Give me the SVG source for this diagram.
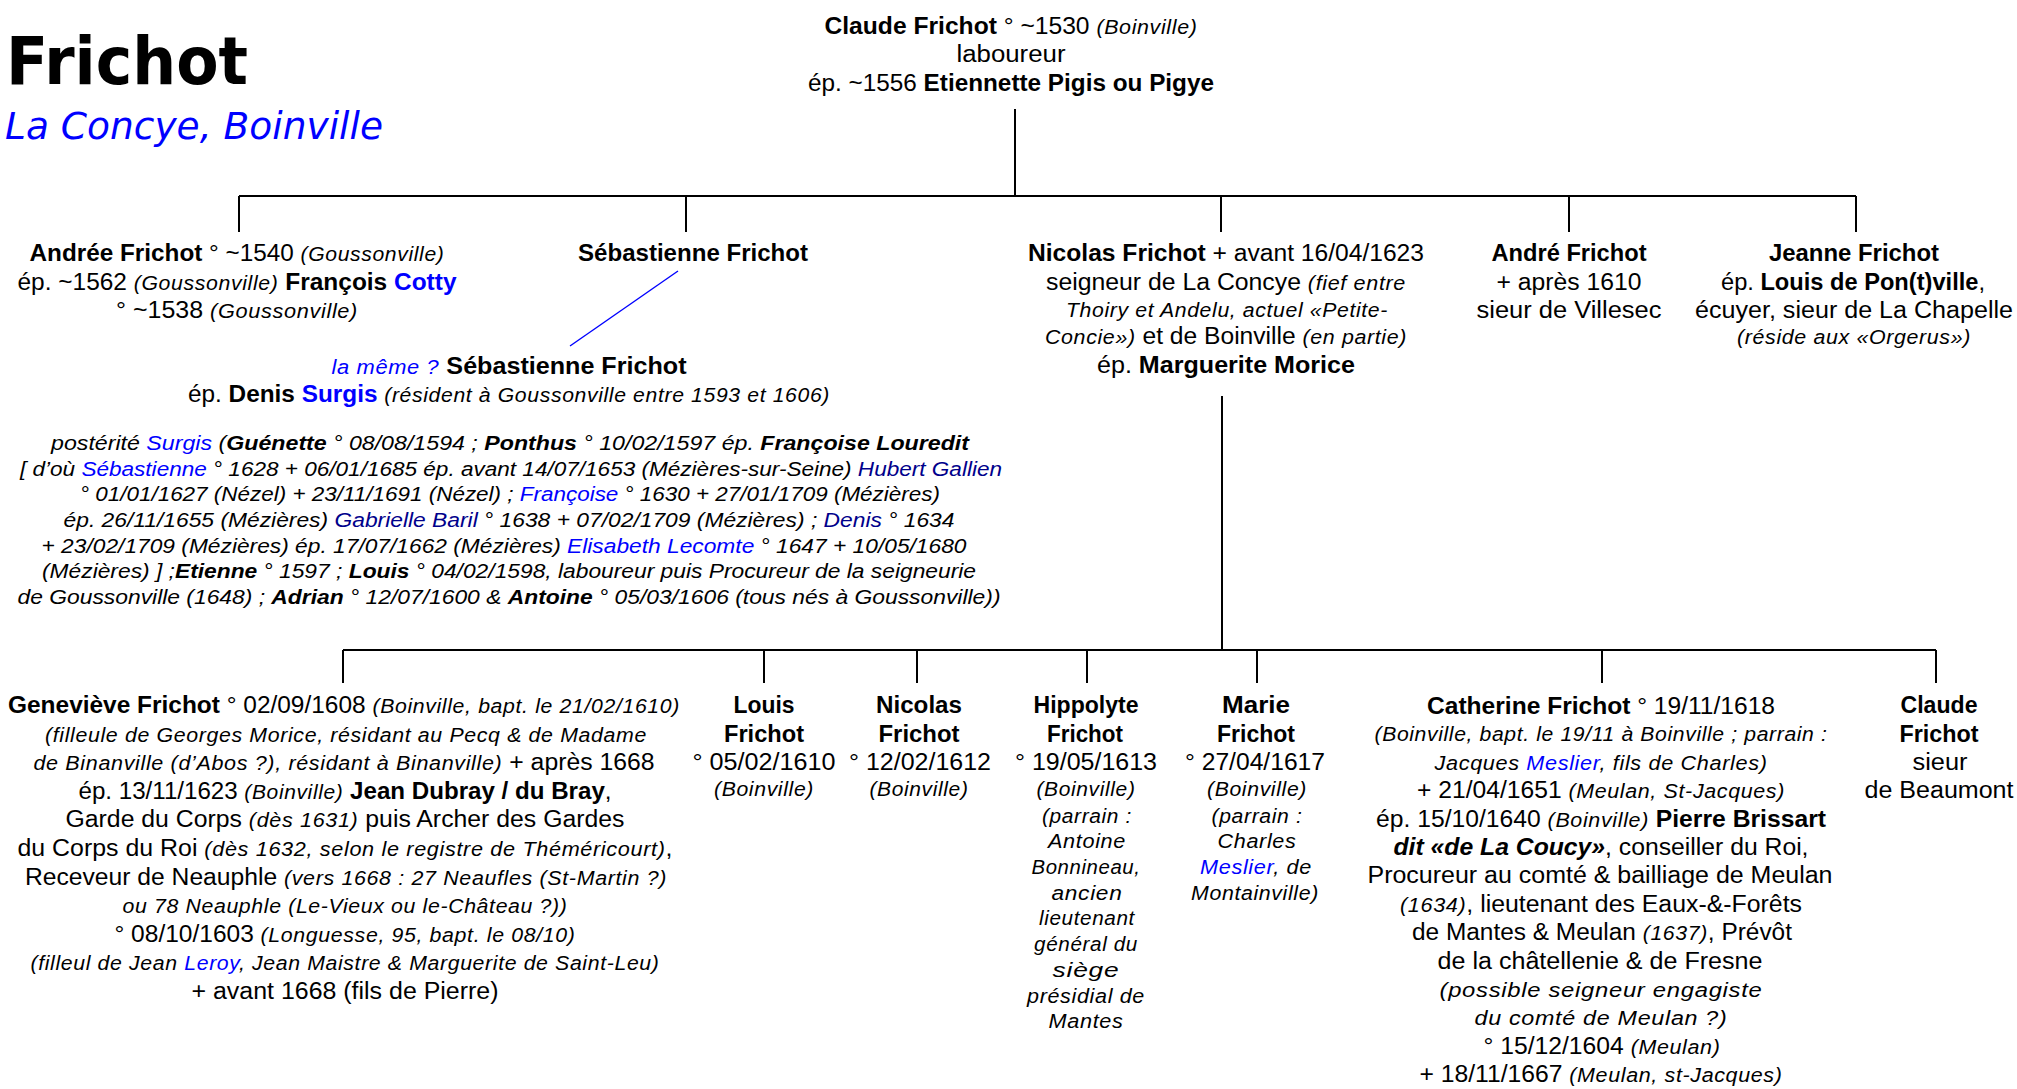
<svg xmlns="http://www.w3.org/2000/svg" width="2017" height="1089" viewBox="0 0 2017 1089">
<style>
.t{font-family:"Liberation Sans",Arial,sans-serif;font-size:23px;fill:#000;text-anchor:middle}
.b{font-weight:bold}
.i{font-style:italic;font-size:20px;letter-spacing:0.6px}
.s{font-style:italic;font-size:20px}
.bl{fill:#0000ff}
.nv{fill:#00008b}
.ln{stroke:#000;stroke-width:2;fill:none}
</style>
<rect width="2017" height="1089" fill="#fff"/>
<g id="title">
<text x="6" y="84" font-family="DejaVu Sans, sans-serif" font-weight="bold" font-size="66" textLength="242" lengthAdjust="spacingAndGlyphs">Frichot</text>
<text x="5" y="139" font-family="DejaVu Sans, sans-serif" font-style="italic" font-size="37" fill="#0000ff" textLength="378" lengthAdjust="spacingAndGlyphs">La Concye, Boinville</text>
</g>
<g id="connectors">
<path class="ln" d="M1015 109V196M239 196H1856M239 196V232M686 196V232M1221 196V232M1569 196V232M1856 196V232"/>
<path class="ln" d="M1222 396V650M343 650H1936M343 650V683M764 650V683M917 650V683M1087 650V683M1257 650V683M1602 650V683M1936 650V683"/>
<line x1="678" y1="271" x2="570" y2="346" stroke="#0000ff" stroke-width="1.4"/>
</g>
<g id="claude-frichot">
<text class="t" x="1011" y="34" textLength="373" lengthAdjust="spacingAndGlyphs"><tspan class="b">Claude Frichot</tspan> ° ~1530 <tspan class="i">(Boinville)</tspan></text>
<text class="t" x="1011" y="62" textLength="109" lengthAdjust="spacingAndGlyphs">laboureur</text>
<text class="t" x="1011" y="91" textLength="406" lengthAdjust="spacingAndGlyphs">ép. ~1556 <tspan class="b">Etiennette Pigis ou Pigye</tspan></text>
</g>
<g id="andree-frichot">
<text class="t" x="237" y="261" textLength="415" lengthAdjust="spacingAndGlyphs"><tspan class="b">Andrée Frichot</tspan> ° ~1540 <tspan class="i">(Goussonville)</tspan></text>
<text class="t" x="237" y="290" textLength="439" lengthAdjust="spacingAndGlyphs">ép. ~1562 <tspan class="i">(Goussonville)</tspan> <tspan class="b">François <tspan class="bl">Cotty</tspan></tspan></text>
<text class="t" x="237" y="318" textLength="242" lengthAdjust="spacingAndGlyphs">° ~1538 <tspan class="i">(Goussonville)</tspan></text>
</g>
<g id="sebastienne-frichot">
<text class="t b" x="693" y="261" textLength="230" lengthAdjust="spacingAndGlyphs">Sébastienne Frichot</text>
</g>
<g id="sebastienne-surgis">
<text class="t" x="509" y="374" textLength="355" lengthAdjust="spacingAndGlyphs"><tspan class="i bl">la même ?</tspan> <tspan class="b">Sébastienne Frichot</tspan></text>
<text class="t" x="509" y="402" textLength="642" lengthAdjust="spacingAndGlyphs">ép. <tspan class="b">Denis <tspan class="bl">Surgis</tspan></tspan> <tspan class="i">(résident à Goussonville entre 1593 et 1606)</tspan></text>
<text class="t s" x="510" y="450" textLength="918" lengthAdjust="spacingAndGlyphs">postérité <tspan class="bl">Surgis</tspan> (<tspan class="b">Guénette</tspan> ° 08/08/1594 ; <tspan class="b">Ponthus</tspan> ° 10/02/1597 ép. <tspan class="b">Françoise Louredit</tspan></text>
<text class="t s" x="511" y="476" textLength="982" lengthAdjust="spacingAndGlyphs">[ d’où <tspan class="bl">Sébastienne</tspan> ° 1628 + 06/01/1685 ép. avant 14/07/1653 (Mézières-sur-Seine) <tspan class="nv">Hubert Gallien</tspan></text>
<text class="t s" x="510" y="501" textLength="860" lengthAdjust="spacingAndGlyphs">° 01/01/1627 (Nézel) + 23/11/1691 (Nézel) ; <tspan class="bl">Françoise</tspan> ° 1630 + 27/01/1709 (Mézières)</text>
<text class="t s" x="509" y="527" textLength="891" lengthAdjust="spacingAndGlyphs">ép. 26/11/1655 (Mézières) <tspan class="nv">Gabrielle Baril</tspan> ° 1638 + 07/02/1709 (Mézières) ; <tspan class="nv">Denis</tspan> ° 1634</text>
<text class="t s" x="504" y="553" textLength="925" lengthAdjust="spacingAndGlyphs">+ 23/02/1709 (Mézières) ép. 17/07/1662 (Mézières) <tspan class="bl">Elisabeth Lecomte</tspan> ° 1647 + 10/05/1680</text>
<text class="t s" x="509" y="578" textLength="934" lengthAdjust="spacingAndGlyphs">(Mézières) ] ;<tspan class="b">Etienne</tspan> ° 1597 ; <tspan class="b">Louis</tspan> ° 04/02/1598, laboureur puis Procureur de la seigneurie</text>
<text class="t s" x="509" y="604" textLength="983" lengthAdjust="spacingAndGlyphs">de Goussonville (1648) ; <tspan class="b">Adrian</tspan> ° 12/07/1600 &amp; <tspan class="b">Antoine</tspan> ° 05/03/1606 (tous nés à Goussonville))</text>
</g>
<g id="nicolas-frichot">
<text class="t" x="1226" y="261" textLength="396" lengthAdjust="spacingAndGlyphs"><tspan class="b">Nicolas Frichot</tspan>  + avant 16/04/1623</text>
<text class="t" x="1226" y="290" textLength="360" lengthAdjust="spacingAndGlyphs">seigneur de La Concye <tspan class="i">(fief entre</tspan></text>
<text class="t i" x="1227" y="317" textLength="322" lengthAdjust="spacingAndGlyphs">Thoiry et Andelu, actuel «Petite-</text>
<text class="t" x="1226" y="344" textLength="362" lengthAdjust="spacingAndGlyphs"><tspan class="i">Concie»)</tspan> et de Boinville <tspan class="i">(en partie)</tspan></text>
<text class="t" x="1226" y="373" textLength="258" lengthAdjust="spacingAndGlyphs">ép.  <tspan class="b">Marguerite Morice</tspan></text>
</g>
<g id="andre-frichot">
<text class="t b" x="1569" y="261" textLength="155" lengthAdjust="spacingAndGlyphs">André Frichot</text>
<text class="t" x="1569" y="290" textLength="145" lengthAdjust="spacingAndGlyphs">+ après 1610</text>
<text class="t" x="1569" y="318" textLength="185" lengthAdjust="spacingAndGlyphs">sieur de Villesec</text>
</g>
<g id="jeanne-frichot">
<text class="t b" x="1854" y="261" textLength="170" lengthAdjust="spacingAndGlyphs">Jeanne Frichot</text>
<text class="t" x="1853" y="290" textLength="264" lengthAdjust="spacingAndGlyphs">ép. <tspan class="b">Louis de Pon(t)ville</tspan>,</text>
<text class="t" x="1854" y="318" textLength="318" lengthAdjust="spacingAndGlyphs">écuyer, sieur de La Chapelle</text>
<text class="t i" x="1854" y="344" textLength="234" lengthAdjust="spacingAndGlyphs">(réside aux «Orgerus»)</text>
</g>
<g id="genevieve-frichot">
<text class="t" x="344" y="713" textLength="672" lengthAdjust="spacingAndGlyphs"><tspan class="b">Geneviève Frichot</tspan>  ° 02/09/1608 <tspan class="i">(Boinville, bapt. le 21/02/1610)</tspan></text>
<text class="t i" x="346" y="741.6" textLength="602" lengthAdjust="spacingAndGlyphs">(filleule de Georges Morice, résidant au Pecq &amp; de Madame</text>
<text class="t" x="344" y="770.2" textLength="621" lengthAdjust="spacingAndGlyphs"><tspan class="i">de Binanville (d’Abos ?), résidant à Binanville)</tspan> + après 1668</text>
<text class="t" x="345" y="798.8" textLength="533" lengthAdjust="spacingAndGlyphs">ép. 13/11/1623 <tspan class="i">(Boinville)</tspan> <tspan class="b">Jean Dubray / du Bray</tspan>,</text>
<text class="t" x="345" y="827.4" textLength="559" lengthAdjust="spacingAndGlyphs">Garde du Corps <tspan class="i">(dès 1631)</tspan> puis Archer des Gardes</text>
<text class="t" x="345" y="856" textLength="655" lengthAdjust="spacingAndGlyphs">du Corps du Roi <tspan class="i">(dès 1632, selon le registre de Théméricourt)</tspan>,</text>
<text class="t" x="346" y="884.6" textLength="642" lengthAdjust="spacingAndGlyphs">Receveur de Neauphle <tspan class="i">(vers 1668 : 27 Neaufles (St-Martin ?)</tspan></text>
<text class="t i" x="345" y="913.2" textLength="445" lengthAdjust="spacingAndGlyphs">ou 78 Neauphle (Le-Vieux ou le-Château ?))</text>
<text class="t" x="345" y="941.8" textLength="461" lengthAdjust="spacingAndGlyphs">° 08/10/1603 <tspan class="i">(Longuesse, 95, bapt. le 08/10)</tspan></text>
<text class="t i" x="345" y="970.4" textLength="629" lengthAdjust="spacingAndGlyphs">(filleul de Jean <tspan class="bl">Leroy</tspan>, Jean Maistre &amp; Marguerite de Saint-Leu)</text>
<text class="t" x="345" y="999" textLength="307" lengthAdjust="spacingAndGlyphs">+ avant 1668 (fils de Pierre)</text>
</g>
<g id="louis-frichot">
<text class="t b" x="764" y="713" textLength="61" lengthAdjust="spacingAndGlyphs">Louis</text>
<text class="t b" x="764" y="742" textLength="80" lengthAdjust="spacingAndGlyphs">Frichot</text>
<text class="t" x="764" y="770" textLength="143" lengthAdjust="spacingAndGlyphs">° 05/02/1610</text>
<text class="t i" x="764" y="796" textLength="100" lengthAdjust="spacingAndGlyphs">(Boinville)</text>
</g>
<g id="nicolas-frichot-2">
<text class="t b" x="919" y="713" textLength="86" lengthAdjust="spacingAndGlyphs">Nicolas</text>
<text class="t b" x="919" y="742" textLength="81" lengthAdjust="spacingAndGlyphs">Frichot</text>
<text class="t" x="920" y="770" textLength="142" lengthAdjust="spacingAndGlyphs">° 12/02/1612</text>
<text class="t i" x="919" y="796" textLength="99" lengthAdjust="spacingAndGlyphs">(Boinville)</text>
</g>
<g id="hippolyte-frichot">
<text class="t b" x="1086" y="713" textLength="105" lengthAdjust="spacingAndGlyphs">Hippolyte</text>
<text class="t b" x="1085" y="742" textLength="76" lengthAdjust="spacingAndGlyphs">Frichot</text>
<text class="t" x="1086" y="770" textLength="142" lengthAdjust="spacingAndGlyphs">° 19/05/1613</text>
<text class="t i" x="1086" y="796" textLength="99" lengthAdjust="spacingAndGlyphs">(Boinville)</text>
<text class="t i" x="1087" y="823" textLength="90" lengthAdjust="spacingAndGlyphs">(parrain :</text>
<text class="t i" x="1087" y="848" textLength="78" lengthAdjust="spacingAndGlyphs">Antoine</text>
<text class="t i" x="1086" y="874" textLength="109" lengthAdjust="spacingAndGlyphs">Bonnineau,</text>
<text class="t i" x="1087" y="900" textLength="71" lengthAdjust="spacingAndGlyphs">ancien</text>
<text class="t i" x="1087" y="925" textLength="96" lengthAdjust="spacingAndGlyphs">lieutenant</text>
<text class="t i" x="1086" y="951" textLength="104" lengthAdjust="spacingAndGlyphs">général du</text>
<text class="t i" x="1086" y="977" textLength="67" lengthAdjust="spacingAndGlyphs">siège</text>
<text class="t i" x="1086" y="1003" textLength="118" lengthAdjust="spacingAndGlyphs">présidial de</text>
<text class="t i" x="1086" y="1028" textLength="75" lengthAdjust="spacingAndGlyphs">Mantes</text>
</g>
<g id="marie-frichot">
<text class="t b" x="1256" y="713" textLength="68" lengthAdjust="spacingAndGlyphs">Marie</text>
<text class="t b" x="1256" y="742" textLength="78" lengthAdjust="spacingAndGlyphs">Frichot</text>
<text class="t" x="1255" y="770" textLength="140" lengthAdjust="spacingAndGlyphs">° 27/04/1617</text>
<text class="t i" x="1257" y="796" textLength="100" lengthAdjust="spacingAndGlyphs">(Boinville)</text>
<text class="t i" x="1257" y="823" textLength="91" lengthAdjust="spacingAndGlyphs">(parrain :</text>
<text class="t i" x="1257" y="848" textLength="79" lengthAdjust="spacingAndGlyphs">Charles</text>
<text class="t i" x="1256" y="874" textLength="112" lengthAdjust="spacingAndGlyphs"><tspan class="bl">Meslier</tspan>, de</text>
<text class="t i" x="1255" y="900" textLength="128" lengthAdjust="spacingAndGlyphs">Montainville)</text>
</g>
<g id="catherine-frichot">
<text class="t" x="1601" y="714" textLength="348" lengthAdjust="spacingAndGlyphs"><tspan class="b">Catherine Frichot</tspan>  ° 19/11/1618</text>
<text class="t i" x="1601" y="741.4" textLength="453" lengthAdjust="spacingAndGlyphs">(Boinville, bapt. le 19/11 à Boinville ; parrain :</text>
<text class="t i" x="1601" y="769.8" textLength="333" lengthAdjust="spacingAndGlyphs">Jacques <tspan class="bl">Meslier</tspan>, fils de Charles)</text>
<text class="t" x="1601" y="798.2" textLength="368" lengthAdjust="spacingAndGlyphs">+ 21/04/1651 <tspan class="i">(Meulan, St-Jacques)</tspan></text>
<text class="t" x="1601" y="826.6" textLength="450" lengthAdjust="spacingAndGlyphs">ép. 15/10/1640 <tspan class="i">(Boinville)</tspan> <tspan class="b">Pierre Brissart</tspan></text>
<text class="t" x="1601" y="855" textLength="415" lengthAdjust="spacingAndGlyphs"><tspan class="b" font-style="italic">dit «de La Coucy»</tspan>, conseiller du Roi,</text>
<text class="t" x="1600" y="883.4" textLength="465" lengthAdjust="spacingAndGlyphs">Procureur au comté &amp; bailliage de Meulan</text>
<text class="t" x="1601" y="911.8" textLength="402" lengthAdjust="spacingAndGlyphs"><tspan class="i">(1634)</tspan>, lieutenant des Eaux-&amp;-Forêts</text>
<text class="t" x="1602" y="940.2" textLength="380" lengthAdjust="spacingAndGlyphs">de Mantes &amp; Meulan <tspan class="i">(1637)</tspan>, Prévôt</text>
<text class="t" x="1600" y="968.6" textLength="325" lengthAdjust="spacingAndGlyphs">de la châtellenie &amp; de Fresne</text>
<text class="t i" x="1601" y="997" textLength="323" lengthAdjust="spacingAndGlyphs">(possible seigneur engagiste</text>
<text class="t i" x="1601" y="1025.4" textLength="253" lengthAdjust="spacingAndGlyphs">du comté de Meulan ?)</text>
<text class="t" x="1602" y="1053.8" textLength="237" lengthAdjust="spacingAndGlyphs">° 15/12/1604 <tspan class="i">(Meulan)</tspan></text>
<text class="t" x="1601" y="1082.2" textLength="363" lengthAdjust="spacingAndGlyphs">+ 18/11/1667 <tspan class="i">(Meulan, st-Jacques)</tspan></text>
</g>
<g id="claude-frichot-2">
<text class="t b" x="1939" y="713" textLength="77" lengthAdjust="spacingAndGlyphs">Claude</text>
<text class="t b" x="1939" y="742" textLength="79" lengthAdjust="spacingAndGlyphs">Frichot</text>
<text class="t" x="1940" y="770" textLength="55" lengthAdjust="spacingAndGlyphs">sieur</text>
<text class="t" x="1939" y="798" textLength="149" lengthAdjust="spacingAndGlyphs">de Beaumont</text>
</g>
</svg>
